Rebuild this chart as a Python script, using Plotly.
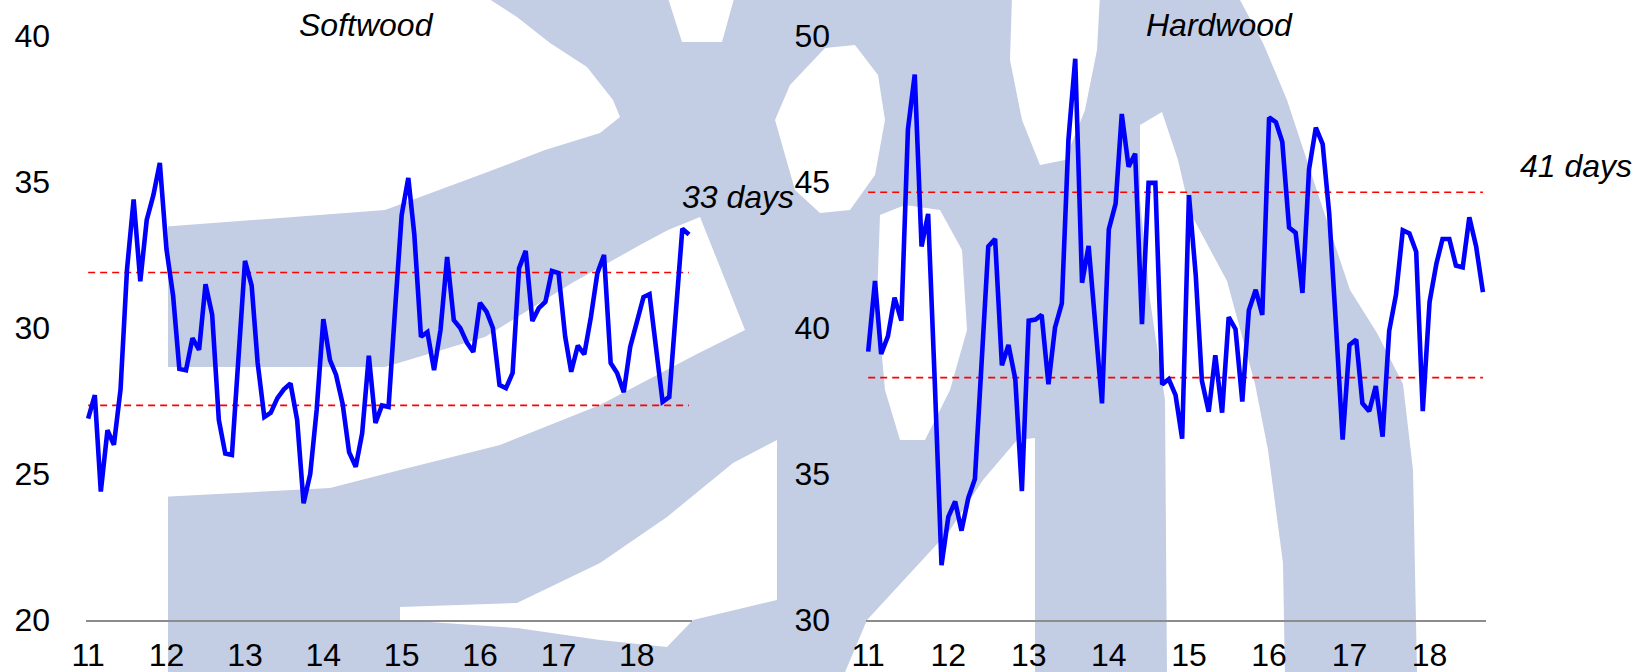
import pandas as pd
import plotly.graph_objects as go

W, H = 1652, 672

# ---------------- data ----------------
months = pd.date_range("2011-01-01", periods=93, freq="MS")

softwood = [
    26.9, 27.7, 24.4, 26.5, 26.0, 27.9, 32.0, 34.4, 31.6, 33.7, 34.55, 35.65,
    32.7, 31.1, 28.6, 28.55, 29.65, 29.25, 31.5, 30.45, 26.85, 25.7, 25.65, 29.0,
    32.3, 31.45, 28.8, 26.95, 27.1, 27.6, 27.9, 28.1, 26.85, 24.0, 25.0, 27.2,
    30.3, 28.9, 28.4, 27.4, 25.75, 25.25, 26.4, 29.05, 26.75, 27.35, 27.3, 30.6,
    33.87, 35.14, 33.2, 29.7, 29.86, 28.56, 29.93, 32.43, 30.27, 30.0, 29.5, 29.18,
    30.86, 30.55, 30.0, 28.05, 27.94, 28.46, 32.05, 32.64, 30.24, 30.68, 30.9, 31.95,
    31.88, 29.7, 28.5, 29.4, 29.1, 30.38, 31.88, 32.5, 28.8, 28.46, 27.8, 29.35,
    30.17, 31.06, 31.16, 29.35, 27.47, 27.64, 30.38, 33.4, 33.2,
]

hardwood = [
    39.19, 41.61, 39.11, 39.72, 41.04, 40.25, 46.8, 48.68, 42.79, 43.91, 38.0, 31.88,
    33.53, 34.06, 33.06, 34.18, 34.83, 38.9, 42.79, 43.05, 38.72, 39.42, 38.25, 34.41,
    40.25, 40.29, 40.45, 38.07, 40.02, 40.84, 46.44, 49.22, 41.55, 42.81, 40.1, 37.42,
    43.38, 44.26, 47.33, 45.52, 45.97, 40.13, 44.97, 44.97, 38.07, 38.25, 37.7, 36.21,
    44.55, 41.8, 38.19, 37.13, 39.07, 37.1, 40.37, 39.96, 37.48, 40.61, 41.31, 40.45,
    47.21, 47.05, 46.38, 43.44, 43.26, 41.2, 45.44, 46.86, 46.3, 43.91, 40.05, 36.18,
    39.42, 39.6, 37.42, 37.15, 38.01, 36.28, 39.9, 41.14, 43.35, 43.24, 42.61, 37.15,
    40.9, 42.2, 43.05, 43.05, 42.14, 42.08, 43.79, 42.79, 41.23,
]

soft_band = [27.35, 31.9]
hard_band = [38.3, 44.65]

titles = ["Softwood", "Hardwood"]
latest_labels = ["33 days", "41 days"]

year_ticks = pd.date_range("2011-01-01", "2018-01-01", freq="YS")
year_labels = ["11", "12", "13", "14", "15", "16", "17", "18"]

soft_yticks = [20, 25, 30, 35, 40]
hard_yticks = [30, 35, 40, 45, 50]

# ---------------- figure ----------------
FONT = "Liberation Sans, Arial, sans-serif"
BLUE = "#0000FF"
WM = "#C3CDE3"

fig = go.Figure()

for vals, band, xa, ya in [(softwood, soft_band, "x", "y"), (hardwood, hard_band, "x2", "y2")]:
    for lvl in band:
        fig.add_trace(go.Scatter(
            x=[months[0], months[-1]], y=[lvl, lvl], mode="lines",
            line=dict(color="#FF0000", width=1.6, dash="7px,5px"),
            xaxis=xa, yaxis=ya, hoverinfo="skip", showlegend=False))
    fig.add_trace(go.Scatter(
        x=months, y=vals, mode="lines",
        line=dict(color=BLUE, width=4.6),
        xaxis=xa, yaxis=ya, showlegend=False))

def px(x):
    return x / W

def py(y):
    return 1 - y / H

ydom = [py(620), py(36)]

xcommon = dict(
    type="date", tickvals=list(year_ticks), ticktext=year_labels,
    showline=True, linecolor="#8C8C8C", linewidth=2,
    showgrid=False, zeroline=False, ticks="",
    tickfont=dict(family=FONT, size=32, color="black"),
    ticklabelstandoff=6, automargin=False,
)
ycommon = dict(
    showgrid=False, zeroline=False, showline=False, ticks="",
    tickfont=dict(family=FONT, size=32, color="black"),
    ticklabelstandoff=35, automargin=False,
)

fig.update_layout(
    width=W, height=H,
    margin=dict(l=0, r=0, t=0, b=0),
    paper_bgcolor="white", plot_bgcolor="rgba(0,0,0,0)",
    showlegend=False,
    xaxis=dict(domain=[px(86), px(692)], anchor="y",
               range=["2010-12-22", "2018-09-15"], **xcommon),
    yaxis=dict(domain=ydom, anchor="x", range=[20, 40], tickvals=soft_yticks, **ycommon),
    xaxis2=dict(domain=[px(866), px(1486)], anchor="y2",
                range=["2010-12-22", "2018-09-15"], **xcommon),
    yaxis2=dict(domain=ydom, anchor="x2", range=[30, 50], tickvals=hard_yticks, **ycommon),
)

# ---------------- watermark (background logo) ----------------
def poly(points, color):
    d = "M " + " L ".join(f"{px(x):.5f},{py(y):.5f}" for x, y in points) + " Z"
    return dict(type="path", path=d, xref="paper", yref="paper",
                fillcolor=color, line=dict(width=0), layer="below")

big = [(168, 0), (1240, 0), (1263, 43), (1287, 100), (1320, 200), (1350, 290),
       (1377, 333), (1403, 384), (1413, 470), (1417, 672), (168, 672)]
holes = [
    [(160, -5), (483, -5), (517, 17), (550, 43), (587, 67), (613, 100), (620, 117),
     (600, 133), (545, 150), (485, 173), (385, 210), (160, 227)],
    [(160, 367), (385, 367), (485, 337), (572, 283), (640, 245), (668, 230), (700, 217),
     (720, 267), (745, 330), (695, 355), (600, 405), (500, 445), (400, 470), (330, 488),
     (160, 497)],
    [(400, 607), (517, 603), (600, 563), (667, 517), (733, 463), (777, 440), (777, 600),
     (693, 620), (667, 647), (600, 640), (517, 628), (400, 620)],
    [(667, -5), (735, -5), (722, 42), (682, 42)],
    [(775, 120), (790, 85), (825, 48), (855, 45), (878, 75), (885, 120), (875, 175),
     (850, 210), (820, 213), (795, 190)],
    [(1012, -5), (1100, -5), (1097, 50), (1085, 110), (1065, 160), (1040, 165),
     (1022, 120), (1010, 60)],
    [(880, 215), (905, 205), (940, 210), (962, 250), (967, 330), (950, 390), (925, 440),
     (900, 440), (885, 390), (877, 300)],
    [(843, 677), (867, 620), (950, 530), (983, 480), (1017, 440), (1035, 438), (1035, 677)],
    [(1140, 125), (1162, 112), (1178, 160), (1190, 212), (1227, 281), (1255, 384),
     (1268, 450), (1283, 563), (1285, 677), (1167, 677), (1165, 400), (1150, 300),
     (1140, 200)],
]
shapes = [poly(big, WM)] + [poly(h, "white") for h in holes]
fig.update_layout(shapes=shapes)

# ---------------- text ----------------
TF = dict(family=FONT, size=32, color="black")
ann = [
    dict(text="<i>" + titles[0] + "</i>", x=px(366), y=py(25), xanchor="center"),
    dict(text="<i>" + titles[1] + "</i>", x=px(1219), y=py(25), xanchor="center"),
    dict(text="<i>" + latest_labels[0] + "</i>", x=px(680), y=py(197), xanchor="left"),
    dict(text="<i>" + latest_labels[1] + "</i>", x=px(1518), y=py(166), xanchor="left"),
]
for a in ann:
    a.update(xref="paper", yref="paper", yanchor="middle", showarrow=False, font=TF)
fig.update_layout(annotations=ann)

fig.write_html(
    "out.html",
    config={"displayModeBar": False},
    post_script="document.body.style.margin='0';document.body.style.overflow='hidden';",
)
